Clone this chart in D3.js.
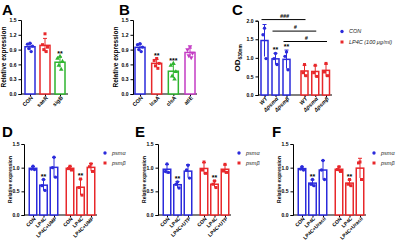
<!DOCTYPE html>
<html>
<head>
<meta charset="utf-8">
<script src="https://cdn.jsdelivr.net/npm/d3@7"></script>
<style>
    body { margin: 0; background: #fff; }
    svg text { font-family: Arial, "Liberation Sans", sans-serif; }
</style>
</head>
<body>
<div id="chart"></div>
<script>

// ---- data ----
const aCats = ["CON", "saeR", "sigB"];
const aPoints = [[1.03, 1.01, 0.97, 0.92, 0.86], [1.22, 1.00, 0.95, 0.90, 0.86], [0.76, 0.72, 0.66, 0.58, 0.50]];
const aStars = ["", "", "**"];

const bCats = ["CON", "lcaA", "clsA", "atlE"];
const bPoints = [[1.02, 1.00, 0.95, 0.90, 0.86], [0.72, 0.68, 0.62, 0.57, 0.52], [0.62, 0.58, 0.45, 0.36, 0.30], [0.96, 0.90, 0.83, 0.78, 0.74]];
const bStars = ["", "**", "***", ""];

const cCats = ["WT", "Δpsmα", "Δpsmβ"];
const cCon = [[1.80, 1.62, 0.98], [1.12, 0.98, 0.82], [1.16, 1.04, 0.68]];
const cLp4c = [[0.82, 0.60, 0.52], [0.80, 0.60, 0.50], [0.85, 0.62, 0.52]];
const cStars = ["", "**", "**"];
const cSigLabels = ["###", "#", "#"];
const cSigLevels = [2.03, 1.72, 1.44];
const cLegend = ["CON", "LP4C (100 μg/ml)"];

const dCats = ["CON", "LP4C", "LP4C+UMP"];
const dAlpha = [[1.03, 0.97, 0.96], [0.75, 0.62, 0.52], [1.22, 1.00, 0.80]];
const dBeta = [[1.03, 0.98, 0.95], [0.76, 0.58, 0.42], [1.08, 1.02, 0.92]];

const eCats = ["CON", "LP4C", "LP4C+UTP"];
const eAlpha = [[1.08, 0.92, 0.90], [0.70, 0.65, 0.57], [1.05, 0.95, 0.78]];
const eBeta = [[1.12, 0.95, 0.88], [0.72, 0.65, 0.58], [1.07, 0.93, 0.90]];

const fCats = ["CON", "LP4C", "LP4C+Uracil"];
const fAlpha = [[1.02, 0.97, 0.95], [0.75, 0.65, 0.62], [1.15, 0.95, 0.75]];
const fBeta = [[1.02, 0.96, 0.92], [0.75, 0.65, 0.62], [1.12, 1.10, 0.75]];

const psmStars = ["", "**", ""];
const psmLegend = ["psmα", "psmβ"];

const blue = "#2b2bdb", red = "#e8282b", green = "#2fb52f", magenta = "#c43cc4";


class BarPanel {

    constructor(svg, cfg) {
        this.svg = svg;
        this.cfg = cfg;
        this.initVis();
    }

    initVis() {
        let vis = this;
        let c = vis.cfg;
        vis.g = vis.svg.append("g");

        vis.y = d3.scaleLinear()
            .domain([0, c.max])
            .range([c.y0, c.y1]);

        vis.yAxis = d3.axisLeft(vis.y)
            .tickValues(d3.range(0, c.max + 1e-9, c.step))
            .tickFormat(d3.format(".1f"))
            .tickSize(2.5);

        vis.g.append("g")
            .attr("class", "axis y-axis")
            .attr("transform", `translate(${c.axisX},0)`)
            .call(vis.yAxis)
            .call(g => g.selectAll("text").attr("font-size", c.tickFont).attr("font-weight", "bold").attr("dx", 1))
            .call(g => g.selectAll("path, line").attr("stroke-width", 1));

        // x axis line
        vis.g.append("line")
            .attr("x1", c.axisX).attr("x2", c.xEnd)
            .attr("y1", c.y0).attr("y2", c.y0)
            .attr("stroke", "black").attr("stroke-width", 1);

        // panel letter
        vis.g.append("text")
            .text(c.letter)
            .attr("x", c.letterPos[0]).attr("y", c.letterPos[1])
            .attr("font-size", 15).attr("font-weight", "bold");

        // y label
        let yl = vis.g.append("text")
            .attr("transform", `translate(${c.ylabelX}, ${(c.y0 + c.y1) / 2}) rotate(-90)`)
            .attr("text-anchor", "middle")
            .attr("font-weight", "bold")
            .attr("font-size", c.ylabelFont);
        if (c.ylabelSub) {
            yl.append("tspan").text(c.ylabel);
            yl.append("tspan").text(c.ylabelSub).attr("font-size", c.ylabelFont * 0.6).attr("dy", 2);
        } else {
            yl.text(c.ylabel);
        }

        vis.updateVis();
    }

    updateVis() {
        let vis = this;
        let c = vis.cfg;

        c.groups.forEach(grp => {
            let x = d3.scalePoint()
                .domain(grp.cats)
                .range(grp.range);

            let xAxis = d3.axisBottom(x).tickSize(2);
            vis.g.append("g")
                .attr("transform", `translate(0,${c.y0})`)
                .call(xAxis)
                .call(g => g.select(".domain").remove())
                .call(g => g.selectAll("line").attr("stroke-width", 1))
                .call(g => g.selectAll("text")
                    .attr("font-size", c.xFont)
                    .attr("font-weight", "bold")
                    .attr("font-style", c.xItalic ? "italic" : null)
                    .attr("text-anchor", "end")
                    .attr("transform", "rotate(-45)")
                    .attr("dy", "0.35em")
                    .attr("y", 3)
                    .attr("x", -1));

            let stats = grp.points.map((p, i) => ({
                cat: grp.cats[i],
                pts: p,
                mean: d3.mean(p),
                sd: d3.deviation(p),
                color: grp.colors[i % grp.colors.length],
                shape: grp.shapes[i % grp.shapes.length],
                star: grp.stars ? grp.stars[i] : ""
            }));

            let bar = vis.g.selectAll(null).data(stats).enter().append("g");

            bar.append("rect")
                .attr("x", d => x(d.cat) - c.barW / 2)
                .attr("width", c.barW)
                .attr("y", d => vis.y(d.mean))
                .attr("height", d => c.y0 - vis.y(d.mean))
                .attr("fill", "white")
                .attr("stroke", d => d.color)
                .attr("stroke-width", 1.5);

            // error bars
            bar.append("line")
                .attr("x1", d => x(d.cat)).attr("x2", d => x(d.cat))
                .attr("y1", d => vis.y(d.mean - d.sd)).attr("y2", d => vis.y(d.mean + d.sd))
                .attr("stroke", d => d.color).attr("stroke-width", 1);
            bar.append("line")
                .attr("x1", d => x(d.cat) - 2).attr("x2", d => x(d.cat) + 2)
                .attr("y1", d => vis.y(d.mean + d.sd)).attr("y2", d => vis.y(d.mean + d.sd))
                .attr("stroke", d => d.color).attr("stroke-width", 1);

            // dots
            bar.each(function (d) {
                let n = d.pts.length;
                let spread = n > 3 ? [0, -2.5, 2.5, -1.2, 1.2] : [0, -1.5, 1.5];
                d3.select(this).selectAll("path.pt")
                    .data(d.pts)
                    .enter().append("path")
                    .attr("class", "pt")
                    .attr("d", d3.symbol().type(d.shape === "down" ? d3.symbolTriangle : d.shape).size(c.dotSize))
                    .attr("transform", (v, i) => `translate(${x(d.cat) + spread[i % spread.length]},${vis.y(v)})` + (d.shape === "down" ? " rotate(180)" : ""))
                    .attr("fill", d.color);
            });

            // significance stars
            bar.append("text")
                .text(d => d.star)
                .attr("x", d => x(d.cat))
                .attr("y", d => vis.y(d.mean + d.sd) + c.starDy)
                .attr("text-anchor", "middle")
                .attr("font-size", c.starFont)
                .attr("font-weight", "bold");

            grp.xScale = x;
        });

        // legend
        if (c.legend) {
            c.legend.labels.forEach((lab, i) => {
                vis.g.append("path")
                    .attr("d", d3.symbol().type(c.legend.shapes[i]).size(c.dotSize))
                    .attr("transform", `translate(${c.legend.x},${c.legend.y + i * c.legend.gap})`)
                    .attr("fill", c.legend.colors[i]);
                vis.g.append("text")
                    .text(lab)
                    .attr("x", c.legend.x + 7)
                    .attr("y", c.legend.y + i * c.legend.gap)
                    .attr("dy", "0.35em")
                    .attr("font-size", c.legend.font)
                    .attr("font-style", "italic")
                    .attr("fill", "#222");
            });
        }

        // comparison lines
        if (c.sig) {
            let g0 = c.groups[0], g1 = c.groups[1];
            c.sig.labels.forEach((lab, i) => {
                let x1 = g0.xScale(g0.cats[i]), x2 = g1.xScale(g1.cats[i]);
                let yy = vis.y(c.sig.levels[i]);
                vis.g.append("line")
                    .attr("x1", x1 - 3).attr("x2", x2 + 1)
                    .attr("y1", yy).attr("y2", yy)
                    .attr("stroke", "black").attr("stroke-width", 1);
                vis.g.append("text")
                    .text(lab)
                    .attr("x", (x1 + x2) / 2)
                    .attr("y", yy - 2)
                    .attr("text-anchor", "middle")
                    .attr("font-size", 5.5)
                    .attr("font-style", "italic")
                    .attr("font-weight", "bold");
            });
        }
    }
}


let svg = d3.select("#chart").append("svg")
    .attr("width", 400)
    .attr("height", 245);

const circle = d3.symbolCircle, square = d3.symbolSquare, tri = d3.symbolTriangle;

const topBase = {max: 1.5, step: 0.3, y0: 94, y1: 20, tickFont: 5, xFont: 5.5, ylabelFont: 6.5,
    ylabel: "Relative expression", barW: 10, dotSize: 9, starFont: 7, starDy: -1};

new BarPanel(svg, Object.assign({}, topBase, {
    letter: "A", letterPos: [2, 15], axisX: 21, xEnd: 68, ylabelX: 6,
    groups: [{cats: aCats, points: aPoints, stars: aStars, range: [30, 60],
        colors: [blue, red, green], shapes: [circle, square, tri]}]
}));

new BarPanel(svg, Object.assign({}, topBase, {
    letter: "B", letterPos: [119, 15], axisX: 133, xEnd: 197, ylabelX: 118,
    groups: [{cats: bCats, points: bPoints, stars: bStars, range: [140, 190],
        colors: [blue, red, green, magenta], shapes: [circle, square, tri, "down"]}]
}));

new BarPanel(svg, {
    letter: "C", letterPos: [232, 15], axisX: 258, xEnd: 332, ylabelX: 240,
    max: 2.0, step: 0.5, y0: 95, y1: 20.7, tickFont: 5, xFont: 5.5, xItalic: true,
    ylabel: "OD", ylabelSub: "630nm", ylabelFont: 8, barW: 7, dotSize: 9, starFont: 7, starDy: -1,
    groups: [
        {cats: cCats, points: cCon, stars: cStars, range: [264.5, 286.5], colors: [blue], shapes: [circle]},
        {cats: cCats, points: cLp4c, range: [304.5, 326], colors: [red], shapes: [square]}
    ],
    sig: {labels: cSigLabels, levels: cSigLevels},
    legend: {labels: cLegend, colors: [blue, red], shapes: [circle, square], x: 342, y: 31.5, gap: 10.5, font: 5.5}
});

const bottomBase = {max: 1.5, step: 0.5, y0: 215, y1: 144, tickFont: 5, xFont: 5, ylabelFont: 5,
    ylabel: "Relative expression", barW: 7.5, dotSize: 9, starFont: 7, starDy: -1};

[
    {letter: "D", lx: 2, ax: 24, cats: dCats, a: dAlpha, b: dBeta},
    {letter: "E", lx: 135, ax: 158, cats: eCats, a: eAlpha, b: eBeta},
    {letter: "F", lx: 272, ax: 293, cats: fCats, a: fAlpha, b: fBeta}
].forEach(p => {
    new BarPanel(svg, Object.assign({}, bottomBase, {
        letter: p.letter, letterPos: [p.lx, 137], axisX: p.ax, xEnd: p.ax + 73, ylabelX: p.ax - 12,
        groups: [
            {cats: p.cats, points: p.a, stars: psmStars, range: [p.ax + 9, p.ax + 30], colors: [blue], shapes: [circle]},
            {cats: p.cats, points: p.b, stars: psmStars, range: [p.ax + 46, p.ax + 67], colors: [red], shapes: [square]}
        ],
        legend: {labels: psmLegend, colors: [blue, red], shapes: [circle, square], x: p.ax + 81, y: 153, gap: 10, font: 5.5}
    }));
});

</script>
</body>
</html>
